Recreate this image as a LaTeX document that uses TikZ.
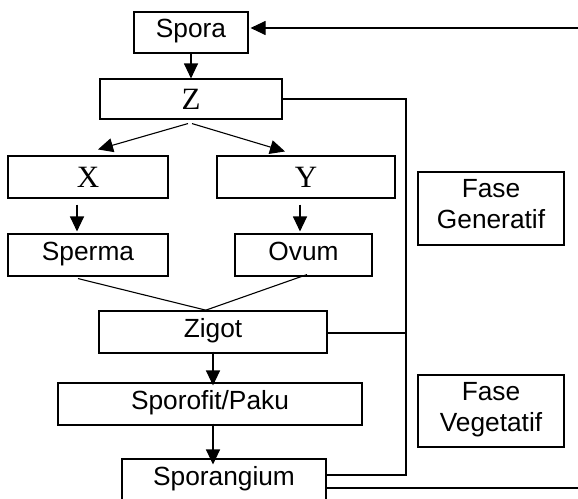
\documentclass[tikz,border=0pt]{standalone}
\usepackage{fontspec}
\setmainfont{Liberation Sans}
\newfontfamily\tnr{Liberation Serif}
\usetikzlibrary{arrows.meta,calc}
\begin{document}
\begin{tikzpicture}[x=1pt,y=-1pt,
  fase/.style={draw,line width=1.1pt,inner sep=0pt,align=center,
    font=\fontsize{26.3}{31}\selectfont},
  box/.style={draw,line width=1.1pt,inner sep=0pt,text height=18pt,text depth=8pt,
    font=\fontsize{26.3}{31}\selectfont},
  sbox/.style={draw,line width=1.1pt,inner sep=0pt,text height=20pt,text depth=0pt,
    font=\tnr\fontsize{31}{34}\selectfont},
  arr/.style={line width=1.1pt,-{Triangle[length=15pt,width=14pt]}},
  ln/.style={line width=1.1pt}]
\useasboundingbox (0,0) rectangle (578,498);
\clip (0,0) rectangle (578,498);
\node[box,minimum width=114pt,minimum height=41pt] (spora) at (191,32.5) {Spora};
\node[sbox,minimum width=182pt,minimum height=40pt] (z) at (191,99) {Z};
\node[sbox,minimum width=160pt,minimum height=42pt] (x) at (88,177) {X};
\node[sbox,minimum width=178pt,minimum height=42pt] (y) at (306,177) {Y};
\node[box,minimum width=160pt,minimum height=42pt] (sperma) at (88,255) {Sperma};
\node[box,minimum width=137pt,minimum height=42pt] (ovum) at (303.5,255) {Ovum};
\node[box,minimum width=228pt,minimum height=42pt] (zigot) at (213,332) {Zigot};
\node[box,minimum width=304pt,minimum height=42pt] (sporofit) at (210,404) {Sporofit/Paku};
\node[box,minimum width=204pt,minimum height=42pt] (sporangium) at (224,480) {Sporangium};
\node[fase,minimum width=146pt,minimum height=73pt] (fg) at (491,208.5) {Fase\\Generatif\rule[-9pt]{0pt}{0pt}};
\node[fase,minimum width=146pt,minimum height=72pt] (fv) at (491,411) {Fase\\Vegetatif\rule[-9pt]{0pt}{0pt}};
\coordinate (vtop) at (406,99);
\coordinate (vbot) at (406,475);
\coordinate (vmid) at (406,333);
\coordinate (eout) at (578,488);
\coordinate (ein) at (578,28);
% main flow
\draw[arr] (spora.south) -- (z.north);
\draw[arr] ([shift={(-3,4)}]z.south) -- ([shift={(10,-6)}]x.north);
\draw[arr] ([shift={(1,4)}]z.south) -- ([shift={(-21,-4)}]y.north);
\draw[arr] ([shift={(-11,6)}]x.south) -- ([shift={(-11,-2)}]sperma.north);
\draw[arr] ([shift={(-6,6)}]y.south) -- ([shift={(-3.5,-2)}]ovum.north);
\draw[ln] ([shift={(-10,2)}]sperma.south) -- ([shift={(-6,0)}]zigot.north);
\draw[ln] ([shift={(3.5,-2)}]ovum.south) -- ([shift={(-8,0)}]zigot.north);
\draw[arr] ([yshift=2]zigot.south) -- ([yshift=-3]zigot.south |- sporofit.north);
\draw[arr] ([yshift=2]zigot.south |- sporofit.south) -- ([yshift=-6]zigot.south |- sporangium.north);
% bracket
\draw[ln] (z.east) -- (vtop) -- (vbot) -- (sporangium.east |- vbot);
\draw[ln] (zigot.east |- vmid) -- (vmid);
% feedback loop
\draw[line width=2pt] (sporangium.east |- eout) -- (eout);
\draw[arr] (ein) -- ([xshift=2]spora.east |- ein);
\end{tikzpicture}
\end{document}
